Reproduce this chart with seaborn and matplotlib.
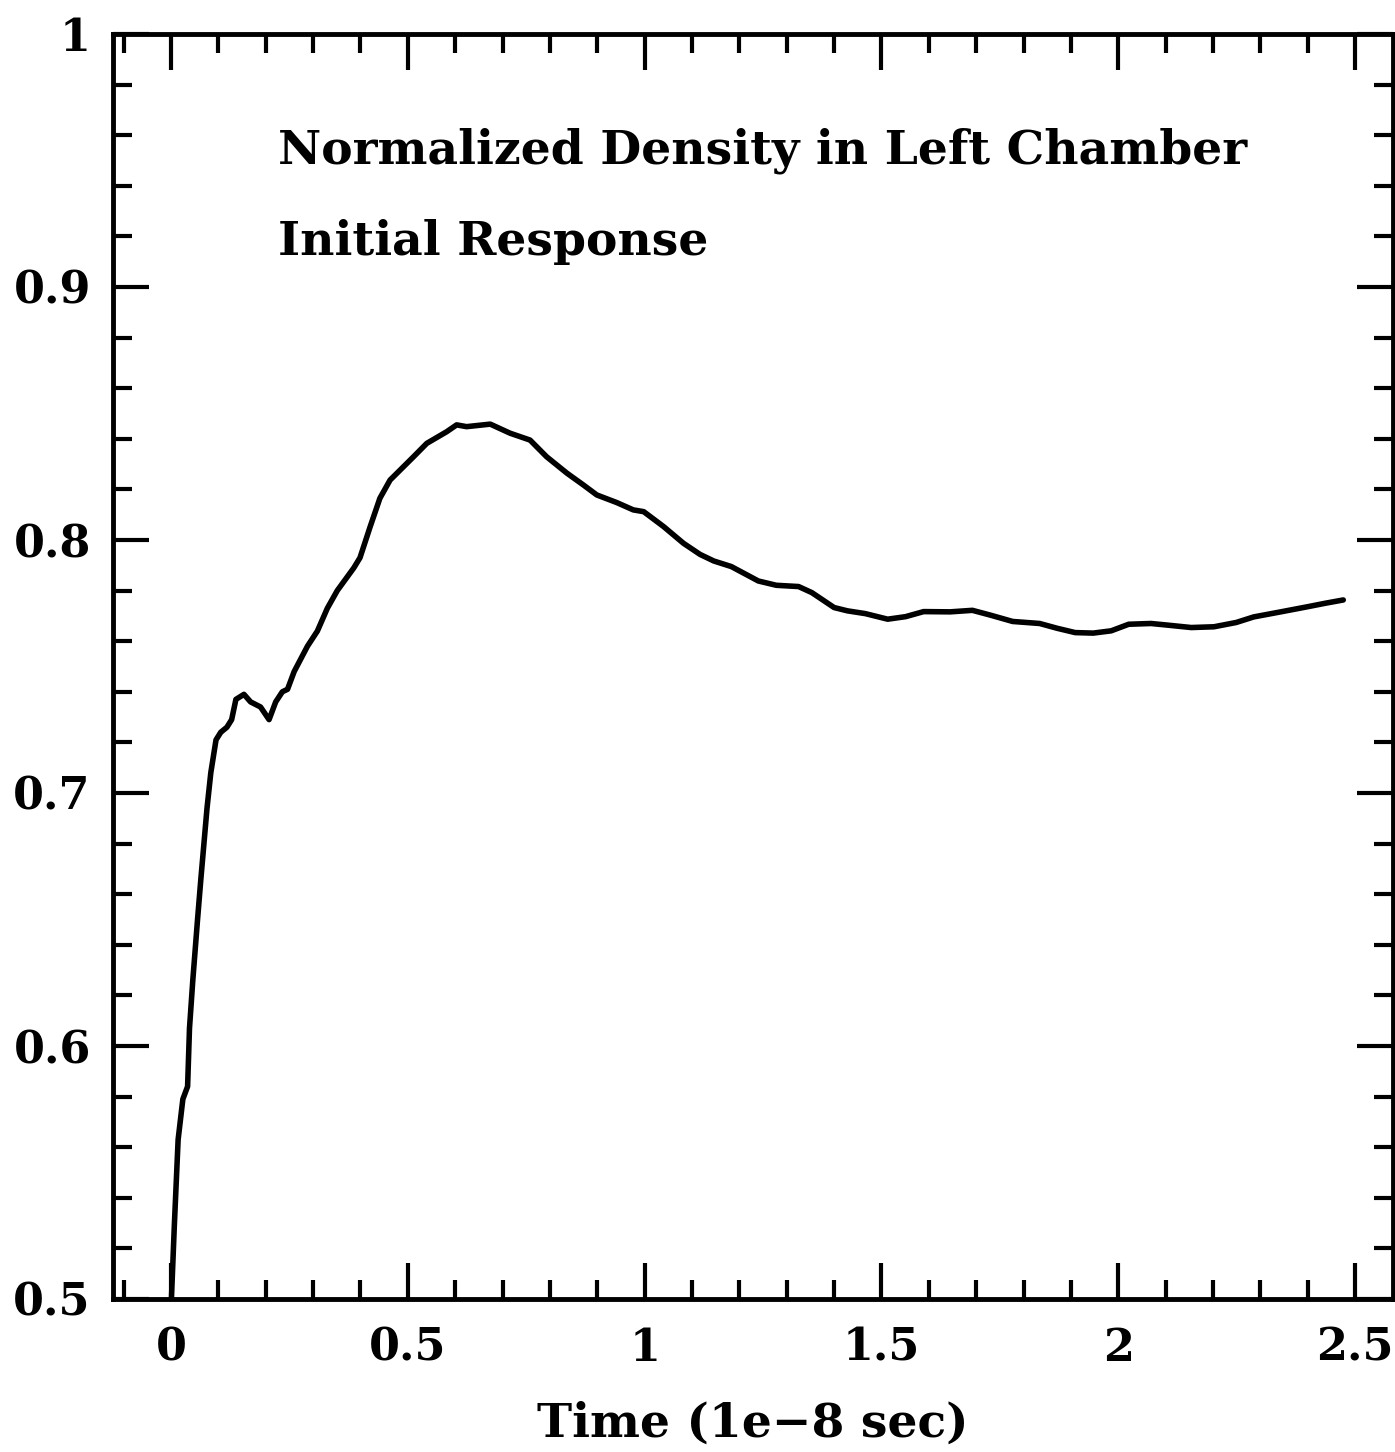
import numpy as np
import pandas as pd
import matplotlib
matplotlib.use("Agg")
import matplotlib.pyplot as plt
import seaborn as sns
from matplotlib.ticker import MultipleLocator

# ---- data ----
time_1e8 = [0.0, 0.007, 0.015, 0.025, 0.035, 0.039, 0.046, 0.056, 0.063, 0.076,
            0.084, 0.095, 0.105, 0.118, 0.128, 0.137, 0.154, 0.168, 0.189, 0.207,
            0.221, 0.235, 0.246, 0.260, 0.288, 0.309, 0.330, 0.351, 0.386, 0.399,
            0.420, 0.441, 0.4625, 0.484, 0.512, 0.540, 0.582, 0.603, 0.624, 0.674,
            0.716, 0.758, 0.793, 0.836, 0.871, 0.899, 0.941, 0.976, 0.998, 1.040,
            1.082, 1.117, 1.146, 1.183, 1.240, 1.278, 1.325, 1.353, 1.400, 1.428,
            1.466, 1.513, 1.551, 1.589, 1.645, 1.692, 1.730, 1.777, 1.834, 1.871,
            1.909, 1.947, 1.985, 2.022, 2.069, 2.107, 2.154, 2.202, 2.249, 2.286,
            2.343, 2.399, 2.437, 2.475]
density = [0.496, 0.529, 0.563, 0.579, 0.584, 0.607, 0.626, 0.650, 0.666, 0.694,
           0.708, 0.721, 0.724, 0.726, 0.729, 0.737, 0.739, 0.736, 0.734, 0.729,
           0.736, 0.740, 0.741, 0.748, 0.758, 0.764, 0.773, 0.780, 0.789, 0.793,
           0.805, 0.8165, 0.8237, 0.8277, 0.8329, 0.8382, 0.8428, 0.8455, 0.8448, 0.8458,
           0.8422, 0.8395, 0.8329, 0.8264, 0.8217, 0.8178, 0.8148, 0.8119, 0.8112, 0.8053,
           0.7987, 0.7943, 0.7917, 0.7895, 0.7838, 0.7821, 0.7816, 0.7792, 0.7733, 0.7720,
           0.7709, 0.7687, 0.7697, 0.7717, 0.7716, 0.7722, 0.7703, 0.7678, 0.7670, 0.7651,
           0.7634, 0.7632, 0.7641, 0.7667, 0.7670, 0.7663, 0.7654, 0.7657, 0.7674, 0.7696,
           0.7716, 0.7736, 0.7750, 0.7763]
x_ticks = [0, 0.5, 1, 1.5, 2, 2.5]
x_tick_labels = ["0", "0.5", "1", "1.5", "2", "2.5"]
y_ticks = [0.5, 0.6, 0.7, 0.8, 0.9, 1.0]
y_tick_labels = ["0.5", "0.6", "0.7", "0.8", "0.9", "1"]
title_line1 = "Normalized Density in Left Chamber"
title_line2 = "Initial Response"
x_label = "Time (1e\u22128 sec)"

df = pd.DataFrame({"t": time_1e8, "rho": density})

sns.set_style("ticks")
plt.rcParams["font.family"] = ["DejaVu Serif", "DejaVu Sans"]
plt.rcParams["font.weight"] = "bold"
plt.rcParams["text.color"] = "black"
plt.rcParams["axes.labelcolor"] = "black"
plt.rcParams["xtick.color"] = "black"
plt.rcParams["ytick.color"] = "black"

fig = plt.figure(figsize=(13.95, 14.52), dpi=100)
ax = fig.add_axes([113 / 1395, 153 / 1452, 1280 / 1395, 1265 / 1452])

sns.lineplot(data=df, x="t", y="rho", ax=ax, color="black", linewidth=4.0,
             estimator=None, sort=False)

ax.set_xlim(-0.1225, 2.58)
ax.set_ylim(0.5, 1.0)
ax.set_xticks(x_ticks)
ax.set_xticklabels(x_tick_labels)
ax.set_yticks(y_ticks)
ax.set_yticklabels(y_tick_labels)
ax.xaxis.set_minor_locator(MultipleLocator(0.1))
ax.yaxis.set_minor_locator(MultipleLocator(0.02))

ax.tick_params(axis="both", which="both", direction="in", top=True, right=True,
               width=3, color="black", labelcolor="black")
ax.tick_params(axis="both", which="major", length=26, labelsize=32)
ax.tick_params(axis="both", which="minor", length=14)
ax.tick_params(axis="x", which="major", pad=20)
ax.tick_params(axis="y", which="major", pad=16)
for lab in ax.get_xticklabels() + ax.get_yticklabels():
    lab.set_fontweight("bold")

for s in ax.spines.values():
    s.set_linewidth(3.5)
    s.set_color("black")
    s.set_visible(True)

ax.set_xlabel(x_label, fontsize=34, fontweight="bold", labelpad=22, color="black")
ax.set_ylabel("")

ax.text(0.129, 0.898, title_line1, transform=ax.transAxes, fontsize=34,
        fontweight="bold", ha="left", va="baseline", color="black")
ax.text(0.129, 0.825, title_line2, transform=ax.transAxes, fontsize=34,
        fontweight="bold", ha="left", va="baseline", color="black")

fig.savefig("out.png", dpi=100, facecolor="white")
